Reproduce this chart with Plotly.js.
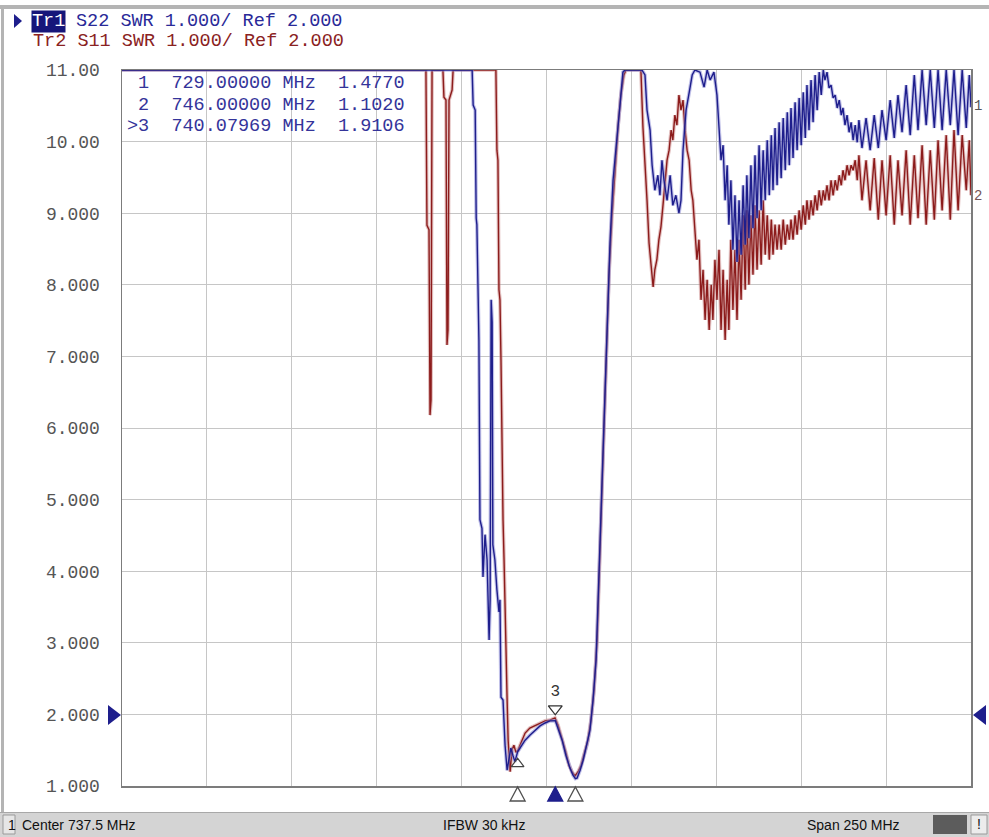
<!DOCTYPE html>
<html>
<head>
<meta charset="utf-8">
<script src="https://cdn.plot.ly/plotly-3.0.1.min.js"></script>
<style>
html,body{margin:0;padding:0;background:#ffffff;}
#chart{width:989px;height:837px;}
</style>
</head>
<body>
<div id="chart"></div>
<script>
// ---------------- DATA ----------------
// Tr1 : S22 SWR (frequency in MHz, SWR)
const freqS22 = [
  612.5, 715.6, 715.9, 716.5, 716.8, 717.0, 717.6, 717.9, 718.5, 718.8,
  719.4, 720.0, 720.6, 720.9, 721.2, 721.5, 721.7, 722.3, 722.9, 723.5,
  723.8, 724.1, 724.7, 725.3, 725.9, 726.5, 727.0, 727.6, 728.2, 729.0,
  729.7, 731.2, 732.6, 734.1, 735.6, 737.1, 738.5, 740.1, 740.9, 742.1,
  743.2, 744.4, 745.3, 746.0, 746.5, 747.4, 748.3, 749.4, 750.3, 751.2,
  752.1, 752.7, 753.3, 753.9, 754.4, 755.0, 755.6, 756.2, 757.1, 758.3,
  759.2, 760.0, 760.6, 765.6, 766.5, 767.1, 768.0, 768.6, 769.4, 770.3,
  770.9, 771.5, 772.1, 773.0, 773.9, 774.7, 775.6, 776.5, 777.1, 777.7,
  778.6, 779.5, 780.4, 781.2, 782.7, 783.9, 784.8, 785.7, 786.8, 787.7,
  788.3, 788.9, 789.5, 790.1, 790.7, 791.2, 791.8, 792.4, 793.0, 793.6,
  794.2, 794.8, 795.4, 796.0, 796.5, 797.1, 797.7, 798.3, 798.9, 799.5,
  800.1, 800.7, 801.3, 801.9, 802.5, 803.1, 803.7, 804.2, 804.8, 805.4,
  806.0, 806.6, 807.2, 807.8, 808.4, 809.0, 809.5, 810.1, 810.7, 811.3,
  811.9, 812.5, 813.1, 813.7, 814.2, 814.8, 815.4, 816.0, 816.6, 817.2,
  817.8, 818.4, 819.0, 819.5, 820.1, 820.7, 821.3, 821.9, 822.5, 823.1,
  823.7, 824.3, 824.8, 825.4, 826.0, 826.6, 827.2, 827.8, 828.4, 829.0,
  829.5, 830.4, 831.6, 832.8, 834.0, 835.2, 836.3, 837.5, 838.7, 839.9,
  841.0, 842.2, 843.4, 844.6, 845.8, 846.9, 848.1, 849.3, 850.5, 851.7,
  852.8, 854.0, 855.2, 856.4, 857.5, 858.7, 859.9, 861.1, 862.0, 862.5
];
const swrS22 = [
  11, 11, 10.51, 10.44, 8.93, 8.84, 7.23, 4.72, 4.60, 3.92,
  4.51, 4.16, 3.04, 3.60, 7.79, 7.48, 4.37, 4.16, 3.74, 3.43,
  3.60, 2.24, 2.20, 1.57, 1.22, 1.36, 1.53, 1.43, 1.34, 1.477,
  1.53, 1.64, 1.71, 1.78, 1.84, 1.88, 1.91, 1.911, 1.81, 1.64,
  1.43, 1.25, 1.15, 1.102, 1.11, 1.22, 1.36, 1.57, 1.78, 2.20,
  2.76, 3.60, 4.44, 5.27, 6.25, 7.09, 7.93, 8.58, 9.46, 10.02,
  10.54, 10.97, 11, 11, 10.93, 10.44, 10.16, 9.67, 9.32, 9.53,
  9.25, 9.74, 9.46, 9.18, 9.53, 9.11, 9.25, 9.00, 9.18, 9.88,
  10.44, 10.68, 10.93, 11, 10.97, 10.76, 11, 10.86, 10.97, 10.65,
  10.16, 9.74, 9.95, 9.18, 9.67, 8.84, 9.46, 8.49, 9.25, 8.32,
  9.18, 8.42, 9.39, 8.56, 9.53, 8.65, 9.67, 8.79, 9.81, 8.93,
  9.95, 9.04, 9.88, 9.18, 10.02, 9.25, 10.09, 9.32, 10.19, 9.39,
  10.27, 9.49, 10.33, 9.60, 10.41, 9.67, 10.47, 9.77, 10.55, 9.88,
  10.61, 9.95, 10.69, 10.05, 10.79, 10.16, 10.86, 10.27, 10.93, 10.44,
  10.97, 10.65, 11, 10.86, 10.97, 10.75, 10.79, 10.61, 10.65, 10.47,
  10.58, 10.37, 10.47, 10.23, 10.37, 10.13, 10.27, 10.02, 10.23, 9.99,
  10.30, 9.91, 10.33, 9.88, 10.37, 9.91, 10.44, 10.02, 10.58, 10.05,
  10.65, 10.13, 10.79, 10.09, 10.93, 10.16, 11, 10.23, 11, 10.19,
  11, 10.16, 11, 10.23, 11, 10.09, 11, 10.19, 10.93, 10.48
];

// Tr2 : S11 SWR
const freqS11 = [
  612.5, 702.0, 702.3, 702.9, 703.2, 703.5, 703.8, 707.0, 707.3, 707.9,
  708.2, 708.5, 708.8, 709.7, 710.0, 722.6, 722.9, 723.2, 723.5, 723.8,
  724.1, 724.4, 724.7, 725.0, 725.3, 725.6, 725.9, 726.2, 726.5, 726.8,
  727.3, 727.9, 728.5, 729.1, 729.7, 731.2, 732.6, 734.1, 735.6, 737.1,
  738.5, 740.0, 740.9, 742.1, 743.2, 744.1, 745.0, 745.9, 746.8, 747.7,
  748.5, 749.7, 750.6, 751.5, 752.4, 753.0, 753.6, 754.2, 754.7, 755.3,
  755.9, 756.8, 757.7, 758.6, 759.4, 760.3, 760.9, 765.3, 765.9, 766.5,
  767.1, 767.7, 768.3, 768.9, 769.4, 770.0, 770.6, 771.2, 771.8, 772.4,
  773.0, 773.6, 774.2, 774.7, 775.3, 775.9, 776.5, 777.1, 777.7, 778.3,
  778.9, 779.5, 780.1, 780.6, 781.2, 781.8, 782.4, 783.0, 783.6, 784.2,
  784.8, 785.4, 786.0, 786.5, 787.1, 787.7, 788.3, 788.9, 789.5, 790.1,
  790.7, 791.2, 791.8, 792.4, 793.0, 793.6, 794.2, 794.8, 795.4, 796.0,
  796.5, 797.1, 797.7, 798.3, 798.9, 799.5, 800.1, 800.7, 801.3, 801.9,
  802.5, 803.1, 803.7, 804.2, 804.8, 805.4, 806.0, 806.6, 807.2, 807.8,
  808.4, 809.0, 809.5, 810.1, 810.7, 811.3, 811.9, 812.5, 813.1, 813.7,
  814.2, 814.8, 815.4, 816.0, 816.6, 817.2, 817.8, 818.4, 819.0, 819.5,
  820.1, 820.7, 821.3, 821.9, 822.5, 823.1, 823.7, 824.3, 824.8, 825.4,
  826.0, 826.6, 827.2, 827.8, 828.4, 829.0, 829.5, 830.4, 831.6, 832.8,
  834.0, 835.2, 836.3, 837.5, 838.7, 839.9, 841.0, 842.2, 843.4, 844.6,
  845.8, 846.9, 848.1, 849.3, 850.5, 851.7, 852.8, 854.0, 855.2, 856.4,
  857.5, 858.7, 859.9, 861.1, 862.0, 862.5
];
const swrS11 = [
  11, 11, 8.83, 8.77, 6.18, 6.39, 11, 11, 10.62, 10.58,
  7.16, 7.37, 10.58, 10.72, 11, 11, 9.88, 9.74, 7.93, 7.79,
  6.95, 5.55, 4.72, 4.16, 3.46, 2.48, 2.20, 1.64, 1.36, 1.20,
  1.50, 1.57, 1.47, 1.50, 1.57, 1.74, 1.81, 1.84, 1.88, 1.91,
  1.92, 1.95, 1.85, 1.67, 1.47, 1.29, 1.20, 1.14, 1.20, 1.29,
  1.43, 1.64, 1.92, 2.34, 3.04, 3.88, 4.72, 5.62, 6.46, 7.37,
  8.14, 8.97, 9.67, 10.23, 10.65, 10.93, 11, 11, 10.20, 9.74,
  9.18, 8.58, 8.21, 7.97, 8.21, 8.35, 8.63, 8.81, 9.11, 9.39,
  9.74, 9.88, 10.16, 10.02, 10.37, 10.23, 10.65, 10.44, 10.58, 10.16,
  9.88, 9.74, 9.32, 9.18, 8.77, 8.35, 8.63, 7.79, 8.21, 7.51,
  8.07, 7.37, 8.00, 7.51, 8.35, 7.79, 8.49, 7.37, 8.21, 7.23,
  8.07, 7.37, 8.63, 7.65, 8.49, 7.51, 8.63, 7.79, 8.97, 7.93,
  9.04, 8.00, 8.97, 8.14, 9.11, 8.21, 9.04, 8.28, 9.18, 8.42,
  8.97, 8.35, 8.91, 8.42, 8.84, 8.49, 8.84, 8.49, 8.91, 8.56,
  8.84, 8.63, 8.91, 8.63, 8.97, 8.70, 9.04, 8.77, 9.11, 8.84,
  9.18, 8.91, 9.18, 8.97, 9.25, 9.04, 9.32, 9.11, 9.32, 9.18,
  9.39, 9.18, 9.46, 9.25, 9.46, 9.32, 9.53, 9.39, 9.60, 9.46,
  9.67, 9.53, 9.67, 9.60, 9.74, 9.46, 9.81, 9.18, 9.74, 9.04,
  9.77, 8.91, 9.74, 8.97, 9.81, 8.84, 9.74, 8.97, 9.88, 8.84,
  9.81, 8.93, 9.95, 8.84, 9.88, 8.91, 10.02, 9.04, 10.09, 8.91,
  10.16, 9.04, 10.09, 9.32, 10.02, 9.25
];

// Markers (Tr1)
const markerIds   = ["1", "2", "3"];
const markerFreqs = [729.00000, 746.00000, 740.07969];
const markerVals  = [1.4770, 1.1020, 1.9106];
const activeMarker = 2; // index of ">3"

// Axis ticks
const yTickVals = [1, 2, 3, 4, 5, 6, 7, 8, 9, 10, 11];
const yTickText = ["1.000", "2.000", "3.000", "4.000", "5.000", "6.000", "7.000", "8.000", "9.000", "10.00", "11.00"];
const centerMHz = 737.5, spanMHz = 250, refValue = 2.0;

// ---------------- LAYOUT HELPERS ----------------
const W = 989, H = 837, L = 122, R = 971, T = 70, B = 786;
const X = px => (px - L) / (R - L);
const Y = py => (B - py) / (B - T);
const NB = s => s.replace(/ /g, '\u00A0');
const MONO = 'Liberation Mono, DejaVu Sans Mono, monospace';
const SANS = 'Liberation Sans Narrow, Liberation Sans, Arial, sans-serif';
const BLUE = '#1e1e8c', RED = '#8c1c1c';
const yPerPx = 10 / (B - T);
const xPerPx = spanMHz / (R - L);

const fmin = centerMHz - spanMHz / 2, fmax = centerMHz + spanMHz / 2;

const traces = [
  {x: freqS11, y: swrS11, mode: 'lines', line: {color: 'rgba(200,130,130,0.5)', width: 3.6}, hoverinfo: 'skip'},
  {x: freqS11, y: swrS11, mode: 'lines', line: {color: RED, width: 1.4}},
  {x: freqS22, y: swrS22, mode: 'lines', line: {color: 'rgba(130,130,210,0.5)', width: 3.6}, hoverinfo: 'skip'},
  {x: freqS22, y: swrS22, mode: 'lines', line: {color: BLUE, width: 1.4}},
  // active marker on trace (pointing down, label above)
  {x: [markerFreqs[activeMarker]], y: [markerVals[activeMarker] + 12 * yPerPx], mode: 'markers+text', cliponaxis: false,
   text: [markerIds[activeMarker]], textposition: 'top center',
   textfont: {family: MONO, size: 16, color: '#333'},
   marker: {symbol: 'triangle-down-open', size: 12, color: '#333', line: {width: 1.3, color: '#333'}}},
  // marker 1 on trace
  {x: [markerFreqs[0]], y: [markerVals[0] - 12 * yPerPx], mode: 'markers', cliponaxis: false,
   marker: {symbol: 'triangle-up-open', size: 11, color: '#444', line: {width: 1.2, color: '#444'}}}
];

const annotations = [];
const ann = (o) => annotations.push(Object.assign({xref: 'paper', yref: 'paper', showarrow: false, yanchor: 'middle'}, o));

// header
ann({x: X(31), y: Y(21), xanchor: 'left', text: 'Tr1', bgcolor: '#16167a', borderpad: 0,
     font: {family: MONO, size: 18.5, color: '#ffffff'}});
ann({x: X(74), y: Y(21), xanchor: 'left', text: NB('S22 SWR 1.000/ Ref ' + refValue.toFixed(3)),
     font: {family: MONO, size: 18.5, color: '#2a2a98'}});
ann({x: X(31), y: Y(41), xanchor: 'left', text: NB('Tr2 S11 SWR 1.000/ Ref ' + refValue.toFixed(3)),
     font: {family: MONO, size: 18.5, color: '#8a2222'}});

// marker table
markerIds.forEach((id, i) => {
  const pre = (i === activeMarker ? '>' : ' ') + id;
  const s = pre + '  ' + markerFreqs[i].toFixed(5) + ' MHz  ' + markerVals[i].toFixed(4);
  ann({x: X(125), y: Y(84 + 21 * i), xanchor: 'left', text: NB(s),
       font: {family: MONO, size: 18.5, color: '#34349a'}});
});

// trace end labels
ann({x: X(972), y: Y(106), xanchor: 'left', text: '1', font: {family: MONO, size: 14, color: '#555'}});
ann({x: X(972), y: Y(196), xanchor: 'left', text: '2', font: {family: MONO, size: 14, color: '#775555'}});

// status bar texts
ann({x: X(6), y: Y(825), xanchor: 'left', text: '1', font: {family: SANS, size: 14, color: '#111'}});
ann({x: X(20), y: Y(825), xanchor: 'left', text: 'Center ' + centerMHz + ' MHz', font: {family: SANS, size: 14, color: '#111'}});
ann({x: X(484), y: Y(825), xanchor: 'center', text: 'IFBW 30 kHz', font: {family: SANS, size: 14, color: '#111'}});
ann({x: X(805), y: Y(825), xanchor: 'left', text: 'Span ' + spanMHz + ' MHz', font: {family: SANS, size: 14, color: '#111'}});
ann({x: X(979), y: Y(824), xanchor: 'center', text: '!', font: {family: SANS, size: 14, color: '#111'}});

const rect = (x0, y0, x1, y1, fill, line) => ({type: 'rect', xref: 'paper', yref: 'paper',
  x0: X(x0), x1: X(x1), y0: Y(y0), y1: Y(y1), fillcolor: fill, line: line || {width: 0}, layer: 'above'});
const path = (pts, fill) => ({type: 'path', xref: 'paper', yref: 'paper', layer: 'above',
  path: 'M' + pts.map(p => X(p[0]) + ',' + Y(p[1])).join(' L') + ' Z', fillcolor: fill, line: {width: 0}});

const shapes = [
  // window frame
  rect(0, 5, W, 9, '#b4b4b4'),
  rect(1, 5, 4, 812, '#b4b4b4'),
  // status bar
  rect(0, 812, W, H, '#d4d4d4'),
  rect(0, 812, W, 813, '#a8a8a8'),
  rect(3, 815, 15, 834, '#e6e6e6', {width: 1, color: '#9a9a9a'}),
  rect(933, 815, 967, 834, '#5c5c5c'),
  rect(971, 815, 987, 834, '#ececec', {width: 1, color: '#9a9a9a'}),
  // active-trace arrow before Tr1
  path([[14, 14], [14, 28], [22, 21]], BLUE),
  // reference level arrows (Ref 2.000)
  path([[108, 705], [108, 725], [121, 715]], BLUE),
  path([[986, 705], [986, 725], [973, 715]], BLUE)
];

// marker triangles under the frequency axis
markerFreqs.forEach((f, i) => {
  const active = i === activeMarker;
  const half = 7.5 * xPerPx;
  shapes.push({type: 'path', xref: 'x', yref: 'paper', layer: 'above',
    path: 'M' + (f - half) + ',' + Y(801) + ' L' + (f + half) + ',' + Y(801) + ' L' + f + ',' + Y(787) + ' Z',
    fillcolor: active ? BLUE : 'rgba(255,255,255,0)',
    line: {width: 1.3, color: active ? BLUE : '#505050'}});
});

const layout = {
  width: W, height: H,
  margin: {l: L, r: W - R, t: T, b: H - B, pad: 0},
  paper_bgcolor: '#ffffff', plot_bgcolor: '#ffffff',
  showlegend: false,
  xaxis: {range: [fmin, fmax], tick0: fmin, dtick: spanMHz / 10, showticklabels: false, ticks: '',
          showgrid: true, gridcolor: '#c6c6c6', gridwidth: 1, zeroline: false,
          showline: true, mirror: true, linecolor: '#7c7c7c', linewidth: 1.5, fixedrange: true},
  yaxis: {range: [1, 11], tickvals: yTickVals, ticktext: yTickText, ticks: 'outside', ticklen: 17,
          tickcolor: 'rgba(0,0,0,0)', tickfont: {family: MONO, size: 18, color: '#555555'},
          showgrid: true, gridcolor: '#c6c6c6', gridwidth: 1, zeroline: false,
          showline: true, mirror: true, linecolor: '#7c7c7c', linewidth: 1.5, fixedrange: true},
  annotations: annotations,
  shapes: shapes
};

Plotly.newPlot('chart', traces, layout, {staticPlot: true, displayModeBar: false});
</script>
</body>
</html>
